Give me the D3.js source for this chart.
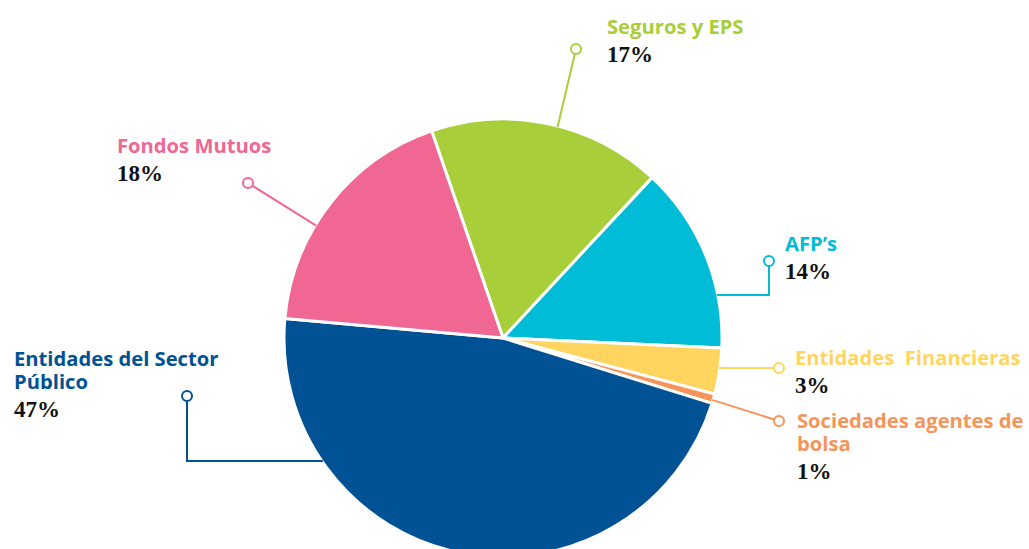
<!DOCTYPE html>
<html>
<head>
<meta charset="utf-8">
<script src="https://cdn.jsdelivr.net/npm/d3@7"></script>
<style>
  body { margin: 0; background: #fff; }
  .cat { font-family: "Open Sans", sans-serif; font-weight: bold; font-size: 20.2px; }
  .pct { font-family: "Liberation Serif", "Times New Roman", serif; font-weight: bold; font-size: 23px; fill: #111; }
</style>
</head>
<body>
<script>
// data (clockwise from the Seguros slice)
var categories = ["Seguros y EPS", "AFP\u2019s", "Entidades  Financieras", "Sociedades agentes de bolsa", "Entidades del Sector P\u00fablico", "Fondos Mutuos"];
var values = [17.2, 13.8, 3.4, 0.7, 46.6, 18.3];
var pctLabels = ["17%", "14%", "3%", "1%", "47%", "18%"];
var colors = ["#a8ce3a", "#00bcd6", "#ffd55f", "#f7945a", "#005294", "#ef6792"];

// label layout: text lines, text pos, dot pos, leader type
var labelLines = [["Seguros y EPS"], ["AFP\u2019s"], ["Entidades  Financieras"], ["Sociedades agentes de", "bolsa"], ["Entidades del Sector", "P\u00fablico"], ["Fondos Mutuos"]];
var textPos = [[607, 34], [785, 251], [795, 365], [797, 428], [14, 366], [117, 153]];
var dotPos = [[576, 49], [769, 261], [779, 368], [779, 421], [187, 396], [248, 183]];
// "diag" -> straight line to edge at angle (deg), "elbow" -> vertical then horizontal at y
var leaders = [{type: "diag", angle: 14.5}, {type: "elbow", y: 295}, {type: "flat"}, {type: "diag", angle: 106.5}, {type: "elbow", y: 461}, {type: "diag", angle: 301}];

var W = 1029, H = 549;
var cx = 503, cy = 338, r = 219;

var svg = d3.select("body").append("svg")
  .attr("width", W)
  .attr("height", H);

var data = categories.map(function(c, i) { return {name: c, value: values[i], i: i}; });

var pie = d3.pie()
  .sort(null)
  .value(function(d) { return d.value; })
  .startAngle(-19 * Math.PI / 180)
  .endAngle(341 * Math.PI / 180);

var arc = d3.arc().innerRadius(0).outerRadius(r);

var g = svg.append("g").attr("transform", "translate(" + cx + "," + cy + ")");

g.selectAll("path")
  .data(pie(data))
  .enter().append("path")
  .attr("d", arc)
  .attr("fill", function(d) { return colors[d.data.i]; })
  .attr("stroke", "#fff")
  .attr("stroke-width", 3)
  .attr("stroke-linejoin", "round");

// leader lines
function edgeX(y, side) {
  var dy = y - cy;
  return cx + side * Math.sqrt(r * r - dy * dy);
}

leaders.forEach(function(l, i) {
  var d = dotPos[i], pts;
  if (l.type === "diag") {
    var a = l.angle * Math.PI / 180;
    pts = [[d[0], d[1]], [cx + (r - 1) * Math.sin(a), cy - (r - 1) * Math.cos(a)]];
  } else if (l.type === "elbow") {
    var side = d[0] > cx ? 1 : -1;
    pts = [[d[0], d[1]], [d[0], l.y], [edgeX(l.y, side) - side * 1, l.y]];
  } else {
    pts = [[d[0], d[1]], [edgeX(d[1], 1) - 1, d[1]]];
  }
  svg.append("path")
    .attr("d", d3.line()(pts))
    .attr("fill", "none")
    .attr("stroke", colors[i])
    .attr("stroke-width", 2);
  svg.append("circle")
    .attr("cx", d[0]).attr("cy", d[1]).attr("r", 5)
    .attr("fill", "#fff")
    .attr("stroke", colors[i])
    .attr("stroke-width", 2);
});

// labels (multi-line names as tspans of one text)
labelLines.forEach(function(lines, i) {
  var t = textPos[i];
  var txt = svg.append("text")
    .attr("class", "cat")
    .attr("x", t[0]).attr("y", t[1])
    .attr("fill", colors[i])
    .style("white-space", "pre");
  lines.forEach(function(s, k) {
    txt.append("tspan")
      .attr("x", t[0])
      .attr("dy", k === 0 ? 0 : 23)
      .text(s);
  });
  svg.append("text")
    .attr("class", "pct")
    .attr("x", t[0]).attr("y", t[1] + lines.length * 23 + 5)
    .text(pctLabels[i]);
});
</script>
</body>
</html>
